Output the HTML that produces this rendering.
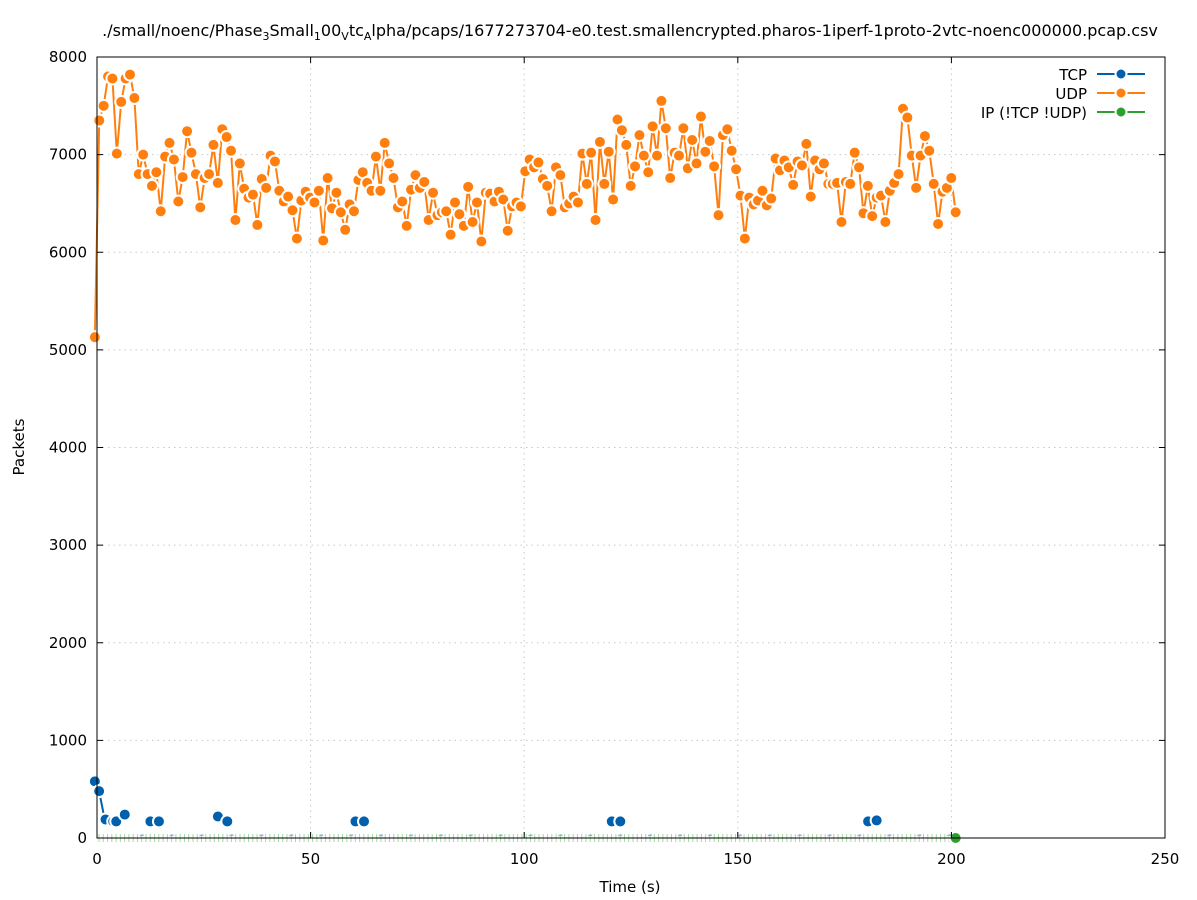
<!DOCTYPE html>
<html><head><meta charset="utf-8"><style>
body{margin:0;background:#fff}
svg{display:block;font-family:"DejaVu Sans",sans-serif;font-size:15px}
</style></head><body>
<svg id="s" width="1197" height="900" xmlns="http://www.w3.org/2000/svg">
<rect width="1197" height="900" fill="#fff"/>
<g id="grid" stroke="#c8c8c8" stroke-width="1" stroke-dasharray="1.5,4"></g>
<g id="ip"></g><g id="tcp"></g><g id="udp"></g>
<g id="axes" stroke="#000" stroke-width="1" fill="none"></g>
<g id="lab" fill="#000"></g>
<text x="630" y="36" text-anchor="middle" font-size="16">./small/noenc/Phase<tspan font-size="11" dy="4">3</tspan><tspan dy="-4">S</tspan>mall<tspan font-size="11" dy="4">1</tspan><tspan dy="-4">00</tspan><tspan font-size="11" dy="4">V</tspan><tspan dy="-4">tc</tspan><tspan font-size="11" dy="4">A</tspan><tspan dy="-4">lpha/pcaps/1677273704-e0.test.smallencrypted.pharos-1iperf-1proto-2vtc-noenc000000.pcap.csv</tspan></text>
<text x="630" y="892" text-anchor="middle">Time (s)</text>
<text transform="translate(24,447) rotate(-90)" text-anchor="middle">Packets</text>
<text x="1087" y="80" text-anchor="end">TCP</text>
<text x="1087" y="99" text-anchor="end">UDP</text>
<text x="1087" y="118" text-anchor="end">IP (!TCP  !UDP)</text>
<g stroke-width="2">
<line x1="1097" y1="74" x2="1145" y2="74" stroke="#0060ad"/><circle cx="1121" cy="74" r="5.5" fill="#0060ad" stroke="#fff" stroke-width="2"/>
<line x1="1097" y1="93" x2="1145" y2="93" stroke="#ff7f0e"/><circle cx="1121" cy="93" r="5.5" fill="#ff7f0e" stroke="#fff" stroke-width="2"/>
<line x1="1097" y1="112" x2="1145" y2="112" stroke="#2ca02c"/><circle cx="1121" cy="112" r="5.5" fill="#2ca02c" stroke="#fff" stroke-width="2"/>
</g>
</svg>
<script>
const NS="http://www.w3.org/2000/svg";
const X=t=>97+t*4.272, Y=v=>838-v*781/8000;
function el(p,n,a,txt){const e=document.createElementNS(NS,n);for(const k in a)e.setAttribute(k,a[k]);if(txt!==undefined)e.textContent=txt;document.getElementById(p).appendChild(e);return e;}
for(let v=1000;v<8000;v+=1000)el("grid","line",{x1:97,x2:1165,y1:Y(v),y2:Y(v)});
for(let t=50;t<250;t+=50)el("grid","line",{x1:X(t),x2:X(t),y1:57,y2:838});
el("axes","rect",{x:97,y:57,width:1068,height:781});
for(let v=0;v<=8000;v+=1000){const y=Y(v);el("axes","line",{x1:97,x2:103,y1:y,y2:y});el("axes","line",{x1:1159,x2:1165,y1:y,y2:y});el("lab","text",{x:87,y:y+5,"text-anchor":"end"},v);}
for(let t=0;t<=250;t+=50){const x=X(t);el("axes","line",{x1:x,x2:x,y1:838,y2:832});el("axes","line",{x1:x,x2:x,y1:57,y2:63});el("lab","text",{x:x,y:864,"text-anchor":"middle"},t);}
const u=[5130,7350,7500,7800,7780,7010,7540,7780,7820,7580,6800,7000,6800,6680,6820,6420,6980,7120,6950,6520,6770,7240,7020,6800,6460,6760,6800,7100,6710,7260,7180,7040,6330,6910,6650,6560,6590,6280,6750,6660,6990,6930,6630,6520,6570,6430,6140,6530,6620,6560,6510,6630,6120,6760,6450,6610,6410,6230,6490,6420,6740,6820,6710,6630,6980,6630,7120,6910,6760,6460,6520,6270,6640,6790,6660,6720,6330,6610,6380,6410,6420,6180,6510,6390,6270,6670,6310,6510,6110,6610,6600,6520,6620,6540,6220,6470,6510,6470,6830,6950,6870,6920,6750,6680,6420,6870,6790,6460,6500,6570,6510,7010,6700,7020,6330,7130,6700,7030,6540,7360,7250,7100,6680,6880,7200,6990,6820,7290,6990,7550,7270,6760,7020,6990,7270,6860,7150,6910,7390,7030,7140,6880,6380,7200,7260,7040,6850,6580,6140,6560,6490,6530,6630,6480,6550,6960,6840,6940,6870,6690,6930,6890,7110,6570,6940,6850,6910,6700,6700,6710,6310,6720,6700,7020,6870,6400,6680,6370,6560,6580,6310,6630,6710,6800,7470,7380,6990,6660,6990,7190,7040,6700,6290,6620,6660,6760,6410];
const n=u.length, tt=i=>-0.5+i*201.5/(n-1);
function series(g,pts,col){el(g,"polyline",{points:pts.map(p=>X(p[0])+","+Y(p[1])).join(" "),fill:"none",stroke:col,"stroke-width":2});
pts.forEach(p=>el(g,"circle",{cx:X(p[0]),cy:Y(p[1]),r:6,fill:col,stroke:"#fff","stroke-width":2}));}
series("udp",u.map((v,i)=>[tt(i),v]),"#ff7f0e");
el("tcp","polyline",{points:[[-0.5,580],[0.5,480],[1.8,190]].map(p=>X(p[0])+","+Y(p[1])).join(" "),fill:"none",stroke:"#0060ad","stroke-width":2});
const tk=[[-0.5,580],[0.5,480],[4.5,170],[6.5,240],[14.5,170],[30.5,170],[62.5,170],[122.5,170],[182.5,180]];
const tkh=[[2,190],[3.8,170],[12.5,170],[28.3,220],[60.5,170],[120.5,170],[180.5,170]];
tkh.forEach(p=>{el("tcp","circle",{cx:X(p[0]),cy:Y(p[1]),r:6,fill:"#0060ad",stroke:"#fff","stroke-width":2});});
tk.forEach(p=>el("tcp","circle",{cx:X(p[0]),cy:Y(p[1]),r:6,fill:"#0060ad",stroke:"#fff","stroke-width":2}));
for(let t=10;t<200;t+=7)el("tcp","line",{x1:X(t),x2:X(t)+4,y1:Y(25),y2:Y(30),stroke:"#8fb5dd","stroke-width":1.5});
for(let t=0;t<200;t++)el("ip","line",{x1:X(t)+2,x2:X(t)+2,y1:834,y2:842,stroke:"#a8d8a8","stroke-width":1});
el("ip","circle",{cx:X(201),cy:838,r:6,fill:"#2ca02c",stroke:"#fff","stroke-width":2});
</script>
</body></html>
